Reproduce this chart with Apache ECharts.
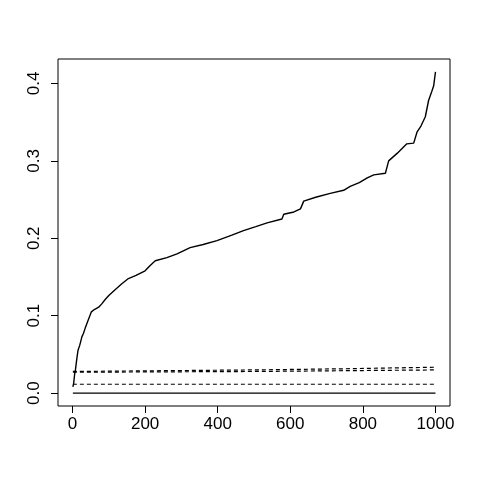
<!DOCTYPE html>
<html><head><meta charset="utf-8">
<script src="https://cdn.jsdelivr.net/npm/echarts@6/dist/echarts.min.js"></script>
<style>html,body{margin:0;padding:0;background:#fff}#c{width:480px;height:480px}</style>
</head><body><div id="c"></div>
<script>
// Main sorted curve
var mainX = [1,3,6,8,12,15,20,26,30,35,42,52,60,72,80,90,100,118,135,154,175,200,214,228,260,288,324,360,398,439,471,505,536,577,582,610,628,637,670,710,747,765,790,812,830,862,871,895,921,940,949,960,972,981,990,995,1000];
var mainY = [0.008,0.012,0.025,0.030,0.045,0.055,0.062,0.073,0.077,0.084,0.093,0.105,0.108,0.111,0.115,0.121,0.126,0.134,0.141,0.148,0.152,0.158,0.165,0.171,0.175,0.180,0.188,0.192,0.197,0.204,0.210,0.215,0.220,0.225,0.231,0.234,0.238,0.248,0.253,0.258,0.262,0.267,0.272,0.278,0.282,0.284,0.300,0.310,0.322,0.323,0.337,0.345,0.357,0.378,0.390,0.397,0.415];
// Dashed reference lines
var refX = [1,250,500,750,1000];
var dashA = [0.028,0.029,0.030,0.0315,0.0335];
var dashB = [0.027,0.0275,0.028,0.029,0.030];
var dashLow = [0.0115,0.0115,0.0115,0.0115,0.0115];
var solidZero = [0,0,0,0,0];
// Tick values
var xTicks = [0,200,400,600,800,1000];
var yTicks = [0,0.1,0.2,0.3,0.4];

function pairs(xs, ys){ return xs.map(function(x,i){ return [x, ys[i]]; }); }
function lineSeries(xs, ys, type, w){
  return {type:'line', data:pairs(xs,ys), symbol:'none', smooth:false,
    lineStyle:{color:'#000', width:w||1, type: type==='dashed' ? [4,3] : 'solid'}, silent:true};
}
var font = 'Liberation Sans';
var chart = echarts.init(document.getElementById('c'), null, {renderer:'canvas'});
chart.setOption({
  animation:false,
  backgroundColor:'#fff',
  grid:{left:58, right:30, top:59, bottom:74, show:true, borderColor:'#000', borderWidth:1, backgroundColor:'transparent'},
  xAxis:{type:'value', min:-40, max:1040,
    axisLine:{show:false, onZero:false}, splitLine:{show:false},
    axisTick:{show:true, length:7, inside:false, customValues:xTicks, lineStyle:{color:'#000'}},
    axisLabel:{customValues:xTicks, margin:10, color:'#000', fontFamily:font, fontSize:17,
      formatter:function(v){ return String(v); }}
  },
  yAxis:{type:'value', min:-0.0166, max:0.4316,
    axisLine:{show:false, onZero:false}, splitLine:{show:false},
    axisTick:{show:true, length:7, inside:false, customValues:yTicks, lineStyle:{color:'#000'}},
    axisLabel:{customValues:yTicks, margin:15, rotate:90, color:'#000', fontFamily:font, fontSize:17,
      formatter:function(v){ return v.toFixed(1); }}
  },
  series:[
    lineSeries(refX, solidZero, 'solid', 1.2),
    lineSeries(refX, dashLow, 'dashed', 1),
    lineSeries(refX, dashB, 'dashed', 1.2),
    lineSeries(refX, dashA, 'dashed', 1.2),
    lineSeries(mainX, mainY, 'solid', 1.4)
  ]
});
</script></body></html>
